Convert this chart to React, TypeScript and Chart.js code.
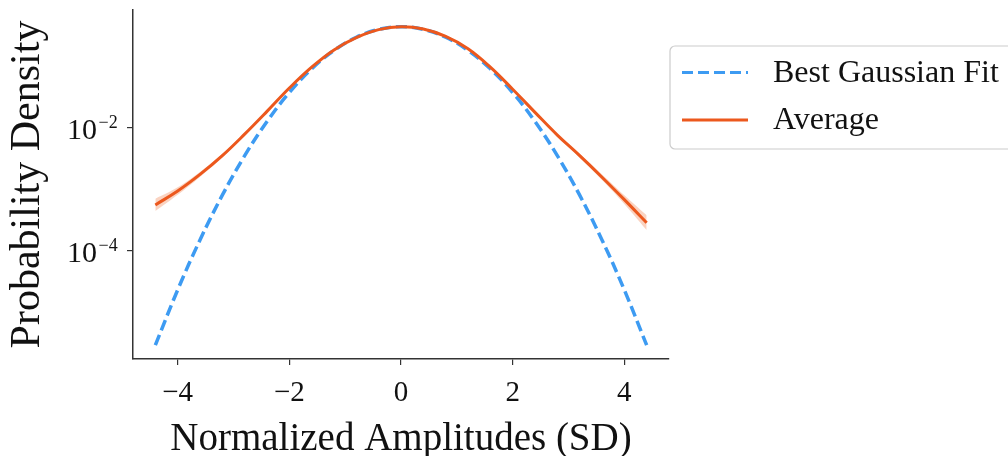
import React, { useEffect, useRef } from "react";
import { Chart, registerables } from "chart.js";

Chart.register(...registerables);

const xValues = [-4.4, -4.0, -3.6, -3.2, -2.8, -2.4, -2.0, -1.6, -1.2, -0.8, -0.4, 0, 0.4, 0.8, 1.2, 1.6, 2.0, 2.4, 2.8, 3.2, 3.6, 4.0, 4.4];

const gaussianFit = [2.94e-6, 2.328e-5, 1.514e-4, 8.087e-4, 0.003547, 0.01277, 0.03776, 0.09167, 0.1827, 0.2991, 0.4019, 0.4436, 0.4019, 0.2991, 0.1827, 0.09167, 0.03776, 0.01277, 0.003547, 8.087e-4, 1.514e-4, 2.328e-5, 2.94e-6];

const averageValues = [5.62e-4, 9.44e-4, 1.758e-3, 3.55e-3, 7.94e-3, 0.01862, 0.04467, 0.0977, 0.1862, 0.2951, 0.398, 0.4436, 0.4074, 0.309, 0.195, 0.0977, 0.0427, 0.01799, 7.67e-3, 3.55e-3, 1.585e-3, 6.84e-4, 2.88e-4];

const averageUpper = [7.08e-4, 1.084e-3, 1.927e-3, 3.81e-3, 8.22e-3, 0.01888, 0.0453, 0.0991, 0.1888, 0.2992, 0.4036, 0.4498, 0.4131, 0.3133, 0.1977, 0.0991, 0.0433, 0.01824, 7.94e-3, 3.81e-3, 1.758e-3, 8.04e-4, 3.8e-4];

const averageLower = [4.46e-4, 8.22e-4, 1.604e-3, 3.31e-3, 7.67e-3, 0.01836, 0.04405, 0.0964, 0.1836, 0.291, 0.3925, 0.4375, 0.4018, 0.3047, 0.1923, 0.0964, 0.0421, 0.01774, 7.41e-3, 3.31e-3, 1.429e-3, 5.82e-4, 2.19e-4];

const xTicks = [-4, -2, 0, 2, 4];
const yTicks = [1e-4, 1e-2];
const yTickExponents = ["\u22124", "\u22122"];

const BLUE = "#3D9BF2";
const ORANGE = "#EC581D";
const FONT = "'Liberation Serif', 'Times New Roman', serif";

const legendItems = [
  { label: "Best Gaussian Fit", color: BLUE, dash: [11, 5] },
  { label: "Average", color: ORANGE, dash: [] as number[] },
];

const yTickLabelPlugin = {
  id: "yTickLabels",
  afterDraw(chart: any) {
    const ctx = chart.ctx;
    const ys = chart.scales.y;
    ctx.save();
    ctx.fillStyle = "#111";
    ctx.textBaseline = "alphabetic";
    yTicks.forEach((v, i) => {
      const py = ys.getPixelForValue(v);
      ctx.font = `30px ${FONT}`;
      ctx.textAlign = "right";
      ctx.fillText("10", 97, py + 10.5);
      ctx.font = `18px ${FONT}`;
      ctx.textAlign = "left";
      ctx.fillText(yTickExponents[i], 98.5, py);
    });
    ctx.restore();
  },
};

const boxLegend = {
  id: "boxLegend",
  afterDraw(chart: any) {
    const ctx = chart.ctx;
    const area = chart.chartArea;
    const left = area.right + 1;
    const top = 46;
    const w = 400;
    const h = 103;
    ctx.save();
    ctx.beginPath();
    const r = 5;
    ctx.moveTo(left + r, top);
    ctx.lineTo(left + w, top);
    ctx.lineTo(left + w, top + h);
    ctx.lineTo(left + r, top + h);
    ctx.arcTo(left, top + h, left, top + h - r, r);
    ctx.lineTo(left, top + r);
    ctx.arcTo(left, top, left + r, top, r);
    ctx.closePath();
    ctx.fillStyle = "rgba(255,255,255,0.8)";
    ctx.fill();
    ctx.strokeStyle = "#cccccc";
    ctx.lineWidth = 1.2;
    ctx.stroke();
    legendItems.forEach((it, i) => {
      const y = 72.5 + i * 47.5;
      ctx.beginPath();
      ctx.setLineDash(it.dash);
      ctx.strokeStyle = it.color;
      ctx.lineWidth = 3.2;
      ctx.moveTo(left + 12, y);
      ctx.lineTo(left + 78, y);
      ctx.stroke();
      ctx.setLineDash([]);
      ctx.fillStyle = "#111";
      ctx.font = `32px ${FONT}`;
      ctx.textBaseline = "middle";
      ctx.textAlign = "left";
      ctx.fillText(it.label, left + 103, y + 1);
    });
    ctx.restore();
  },
};

export default function App() {
  const canvasRef = useRef<HTMLCanvasElement | null>(null);

  useEffect(() => {
    document.body.style.margin = "0";
    const canvas = canvasRef.current;
    if (!canvas) return;
    const toPts = (ys: number[]) => xValues.map((x, i) => ({ x, y: ys[i] }));
    const chart = new Chart(canvas, {
      type: "line",
      data: {
        datasets: [
          {
            label: "Average",
            data: toPts(averageValues),
            borderColor: ORANGE,
            borderWidth: 3,
            pointRadius: 0,
            tension: 0.4,
            fill: false,
            order: 0,
          },
          {
            label: "Best Gaussian Fit",
            data: toPts(gaussianFit),
            borderColor: BLUE,
            borderWidth: 3.5,
            borderDash: [11, 5],
            pointRadius: 0,
            tension: 0.4,
            fill: false,
            order: 1,
          },
          {
            label: "lower",
            data: toPts(averageLower),
            borderWidth: 0,
            borderColor: "rgba(0,0,0,0)",
            pointRadius: 0,
            tension: 0.4,
            fill: false,
            order: 3,
          },
          {
            label: "upper",
            data: toPts(averageUpper),
            borderWidth: 0,
            borderColor: "rgba(0,0,0,0)",
            backgroundColor: "rgba(240,110,50,0.3)",
            pointRadius: 0,
            tension: 0.4,
            fill: "-1",
            order: 2,
          },
        ],
      },
      options: {
        animation: false,
        responsive: false,
        maintainAspectRatio: false,
        layout: { padding: { left: 0, right: 339, top: 10, bottom: 0 } },
        plugins: { legend: { display: false }, tooltip: { enabled: false } },
        scales: {
          x: {
            type: "linear",
            min: -4.8,
            max: 4.8,
            afterBuildTicks: (s: any) => {
              s.ticks = xTicks.map((v) => ({ value: v }));
            },
            afterFit: (s: any) => {
              s.height = 97;
              s.paddingLeft = 0;
              s.paddingRight = 0;
            },
            grid: { display: true, drawOnChartArea: false, drawTicks: true, tickLength: 6, color: "#333", lineWidth: 1.2 },
            border: { display: true, color: "#333", width: 1.5 },
            ticks: {
              color: "#111",
              font: { family: FONT, size: 29 },
              padding: 11,
              maxRotation: 0,
              callback: (v: any) => (Number(v) < 0 ? "\u2212" + Math.abs(Number(v)) : String(v)),
            },
            title: {
              display: true,
              text: "Normalized Amplitudes (SD)",
              color: "#111",
              font: { family: FONT, size: 39, lineHeight: 0.8 },
              padding: { top: 0, bottom: 1 },
            },
          },
          y: {
            type: "logarithmic",
            min: 1.754e-6,
            max: 0.83,
            afterBuildTicks: (s: any) => {
              s.ticks = yTicks.map((v) => ({ value: v }));
            },
            afterFit: (s: any) => {
              s.width = 133;
              s.paddingTop = 0;
              s.paddingBottom = 0;
            },
            grid: { display: true, drawOnChartArea: false, drawTicks: true, tickLength: 6, color: "#333", lineWidth: 1.2 },
            border: { display: true, color: "#333", width: 1.5 },
            ticks: { display: false },
            title: {
              display: true,
              text: "Probability Density",
              color: "#111",
              font: { family: FONT, size: 42, lineHeight: 1 },
              padding: { top: 7, bottom: 0 },
            },
          },
        },
      },
      plugins: [yTickLabelPlugin, boxLegend],
    });
    return () => chart.destroy();
  }, []);

  return (
    <div style={{ width: 1008, height: 456 }}>
      <canvas ref={canvasRef} width={1008} height={456} style={{ width: 1008, height: 456, display: "block" }} />
    </div>
  );
}
